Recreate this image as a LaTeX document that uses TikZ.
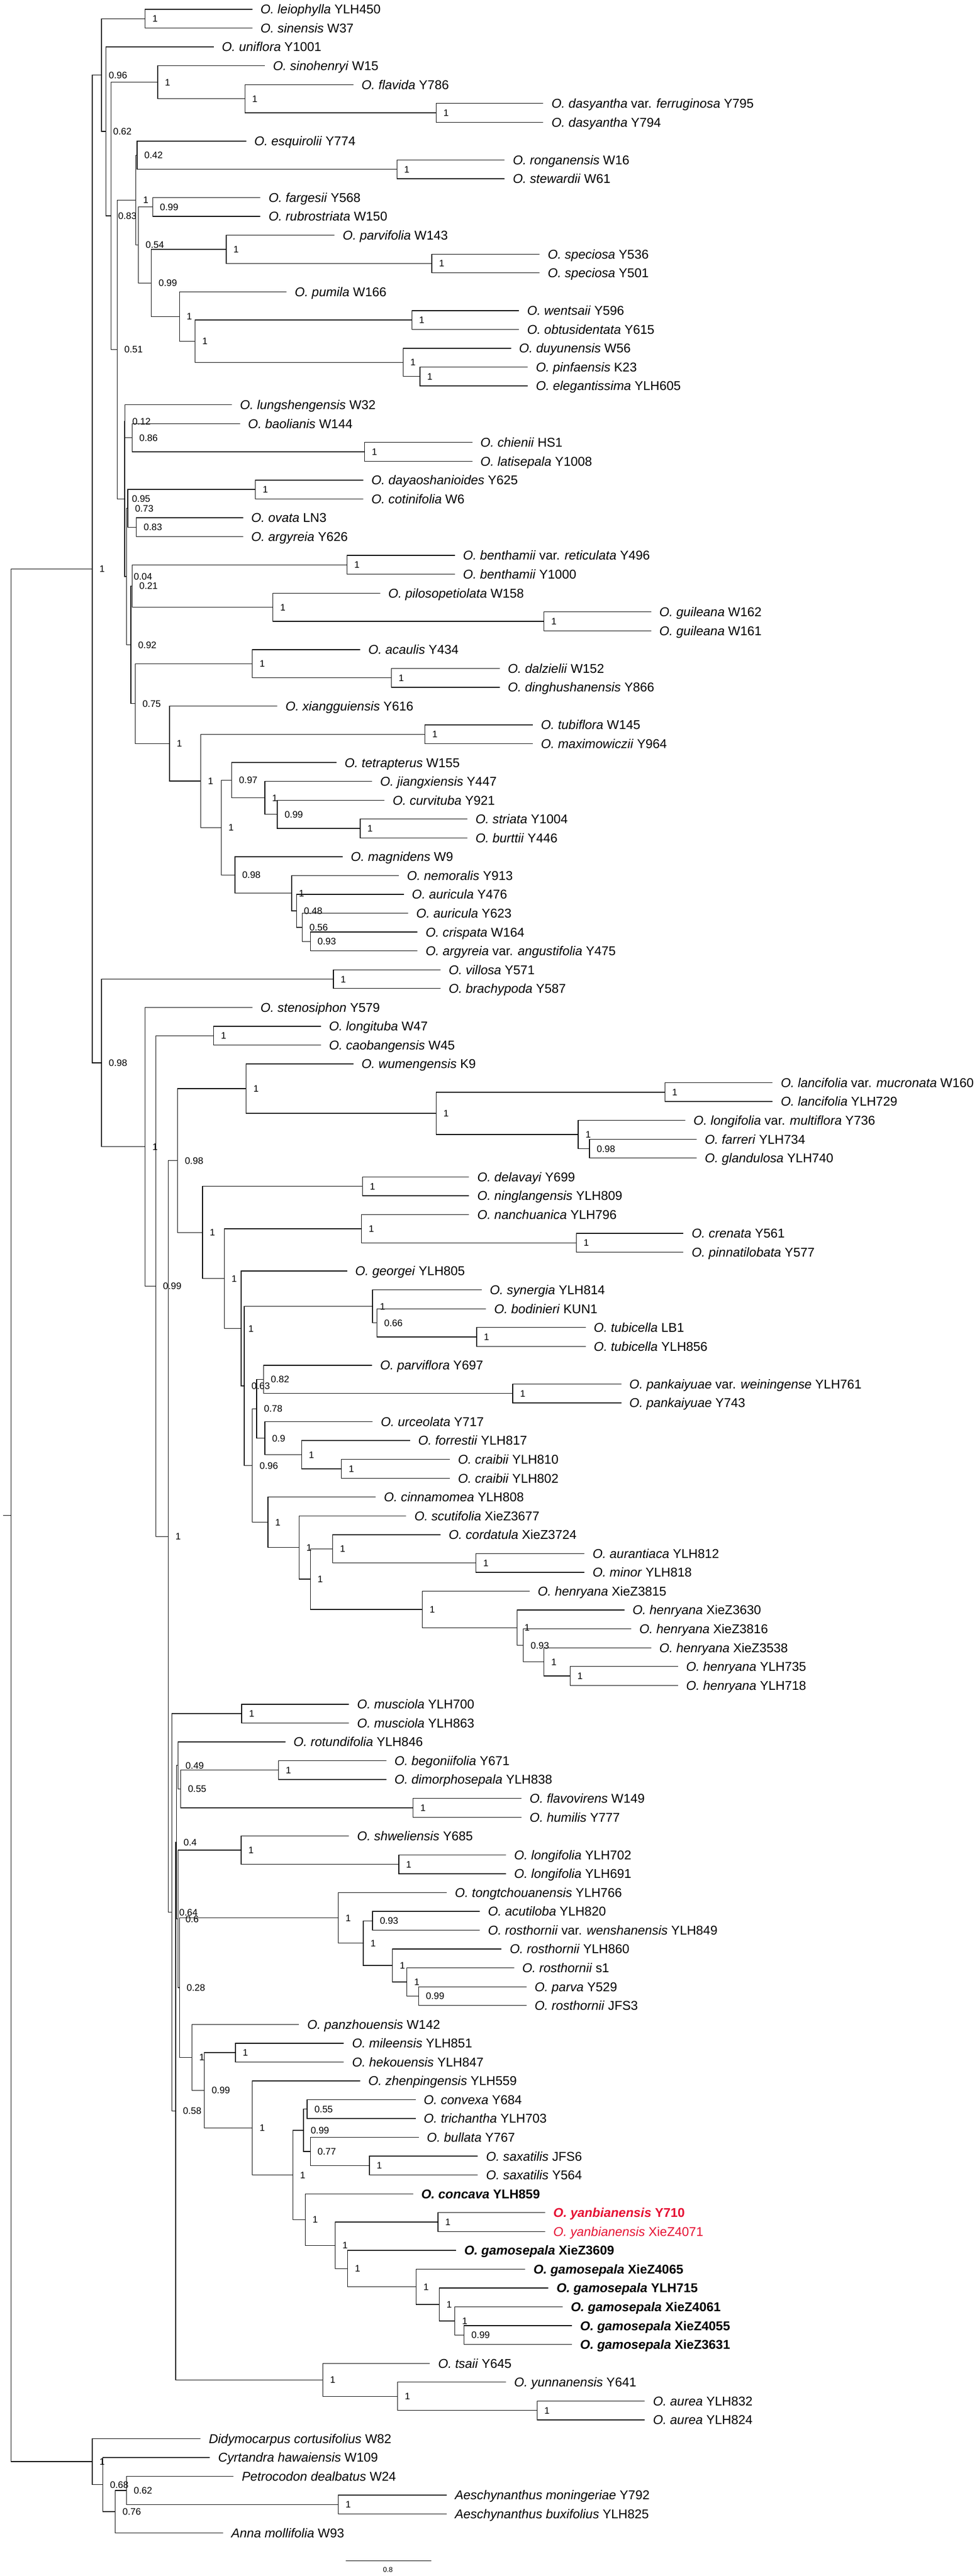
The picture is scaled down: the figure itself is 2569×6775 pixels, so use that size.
\documentclass[tikz,border=0pt]{standalone}
\usepackage{fontspec}
\setmainfont{Liberation Sans}
\definecolor{oyred}{RGB}{230,18,52}
\newcommand\tx[2]{\textit{#1} #2}
\newcommand\tv[3]{\textit{#1} var. \textit{#2} #3}
\newcommand\leaf[3]{%
  \pgfmathsetmacro\mytmp{24.4+(#1-1)*49.53}%
  \expandafter\xdef\csname nyt#1\endcsname{\mytmp}%
  \coordinate (t#1) at (#2,\mytmp);
  \node[leaflab] (L#1) at (t#1) {#3};}
\newcommand\setnode[5]{%
  \pgfmathsetmacro\mytmp{(\csname ny#3\endcsname+\csname ny#4\endcsname)/2}%
  \expandafter\xdef\csname ny#1\endcsname{\mytmp}%
  \coordinate (#1) at (#2,\mytmp);
  \draw[br] (#1) |- (#3);
  \draw[br] (#1) |- (#4);
  \node[sup] (s#1) at (#1) {#5};}
\tikzset{
  br/.style={line width=0.45pt, black},
  leaflab/.style={anchor=west, inner sep=0pt, xshift=5.2pt, font=\fontsize{8.4}{10}\selectfont, text height=6pt, text depth=0pt},
  sup/.style={anchor=west, inner sep=0pt, xshift=4.6pt, font=\fontsize{6.2}{7}\selectfont, text height=4.4pt, text depth=0pt},
  sclab/.style={inner sep=0pt, font=\fontsize{4.6}{5}\selectfont}
}
\begin{document}
\begin{tikzpicture}[x=0.25pt,y=-0.25pt]
\useasboundingbox (0,0) rectangle (2569,6775);
% leaves
\leaf{1}{663.6}{\tx{O. leiophylla}{YLH450}}
\leaf{2}{663.6}{\tx{O. sinensis}{W37}}
\leaf{3}{562}{\tx{O. uniflora}{Y1001}}
\leaf{4}{696.3}{\tx{O. sinohenryi}{W15}}
\leaf{5}{929}{\tx{O. flavida}{Y786}}
\leaf{6}{1428.7}{\tv{O. dasyantha}{ferruginosa}{Y795}}
\leaf{7}{1428.7}{\tx{O. dasyantha}{Y794}}
\leaf{8}{647.2}{\tx{O. esquirolii}{Y774}}
\leaf{9}{1327}{\tx{O. ronganensis}{W16}}
\leaf{10}{1327}{\tx{O. stewardii}{W61}}
\leaf{11}{684.9}{\tx{O. fargesii}{Y568}}
\leaf{12}{684.9}{\tx{O. rubrostriata}{W150}}
\leaf{13}{879.8}{\tx{O. parvifolia}{W143}}
\leaf{14}{1418.9}{\tx{O. speciosa}{Y536}}
\leaf{15}{1418.9}{\tx{O. speciosa}{Y501}}
\leaf{16}{753.7}{\tx{O. pumila}{W166}}
\leaf{17}{1364.8}{\tx{O. wentsaii}{Y596}}
\leaf{18}{1364.8}{\tx{O. obtusidentata}{Y615}}
\leaf{19}{1343.5}{\tx{O. duyunensis}{W56}}
\leaf{20}{1387.7}{\tx{O. pinfaensis}{K23}}
\leaf{21}{1387.7}{\tx{O. elegantissima}{YLH605}}
\leaf{22}{609.5}{\tx{O. lungshengensis}{W32}}
\leaf{23}{630.8}{\tx{O. baolianis}{W144}}
\leaf{24}{1241.9}{\tx{O. chienii}{HS1}}
\leaf{25}{1241.9}{\tx{O. latisepala}{Y1008}}
\leaf{26}{955.2}{\tx{O. dayaoshanioides}{Y625}}
\leaf{27}{955.2}{\tx{O. cotinifolia}{W6}}
\leaf{28}{639}{\tx{O. ovata}{LN3}}
\leaf{29}{639}{\tx{O. argyreia}{Y626}}
\leaf{30}{1196}{\tv{O. benthamii}{reticulata}{Y496}}
\leaf{31}{1196}{\tx{O. benthamii}{Y1000}}
\leaf{32}{999.4}{\tx{O. pilosopetiolata}{W158}}
\leaf{33}{1712.1}{\tx{O. guileana}{W162}}
\leaf{34}{1712.1}{\tx{O. guileana}{W161}}
\leaf{35}{947}{\tx{O. acaulis}{Y434}}
\leaf{36}{1314}{\tx{O. dalzielii}{W152}}
\leaf{37}{1314}{\tx{O. dinghushanensis}{Y866}}
\leaf{38}{729.1}{\tx{O. xiangguiensis}{Y616}}
\leaf{39}{1400.8}{\tx{O. tubiflora}{W145}}
\leaf{40}{1400.8}{\tx{O. maximowiczii}{Y964}}
\leaf{41}{884.7}{\tx{O. tetrapterus}{W155}}
\leaf{42}{978.1}{\tx{O. jiangxiensis}{Y447}}
\leaf{43}{1010.9}{\tx{O. curvituba}{Y921}}
\leaf{44}{1228.8}{\tx{O. striata}{Y1004}}
\leaf{45}{1228.8}{\tx{O. burttii}{Y446}}
\leaf{46}{901.1}{\tx{O. magnidens}{W9}}
\leaf{47}{1048.6}{\tx{O. nemoralis}{Y913}}
\leaf{48}{1061.7}{\tx{O. auricula}{Y476}}
\leaf{49}{1073.2}{\tx{O. auricula}{Y623}}
\leaf{50}{1097.7}{\tx{O. crispata}{W164}}
\leaf{51}{1097.7}{\tv{O. argyreia}{angustifolia}{Y475}}
\leaf{52}{1158.3}{\tx{O. villosa}{Y571}}
\leaf{53}{1158.3}{\tx{O. brachypoda}{Y587}}
\leaf{54}{663.6}{\tx{O. stenosiphon}{Y579}}
\leaf{55}{843.8}{\tx{O. longituba}{W47}}
\leaf{56}{843.8}{\tx{O. caobangensis}{W45}}
\leaf{57}{929}{\tx{O. wumengensis}{K9}}
\leaf{58}{2031.6}{\tv{O. lancifolia}{mucronata}{W160}}
\leaf{59}{2031.6}{\tx{O. lancifolia}{YLH729}}
\leaf{60}{1802.2}{\tv{O. longifolia}{multiflora}{Y736}}
\leaf{61}{1831.7}{\tx{O. farreri}{YLH734}}
\leaf{62}{1831.7}{\tx{O. glandulosa}{YLH740}}
\leaf{63}{1233.7}{\tx{O. delavayi}{Y699}}
\leaf{64}{1233.7}{\tx{O. ninglangensis}{YLH809}}
\leaf{65}{1233.7}{\tx{O. nanchuanica}{YLH796}}
\leaf{66}{1797.3}{\tx{O. crenata}{Y561}}
\leaf{67}{1797.3}{\tx{O. pinnatilobata}{Y577}}
\leaf{68}{912.6}{\tx{O. georgei}{YLH805}}
\leaf{69}{1266.5}{\tx{O. synergia}{YLH814}}
\leaf{70}{1278}{\tx{O. bodinieri}{KUN1}}
\leaf{71}{1540}{\tx{O. tubicella}{LB1}}
\leaf{72}{1540}{\tx{O. tubicella}{YLH856}}
\leaf{73}{978.1}{\tx{O. parviflora}{Y697}}
\leaf{74}{1633.5}{\tv{O. pankaiyuae}{weiningense}{YLH761}}
\leaf{75}{1633.5}{\tx{O. pankaiyuae}{Y743}}
\leaf{76}{979.8}{\tx{O. urceolata}{Y717}}
\leaf{77}{1078}{\tx{O. forrestii}{YLH817}}
\leaf{78}{1182.9}{\tx{O. craibii}{YLH810}}
\leaf{79}{1182.9}{\tx{O. craibii}{YLH802}}
\leaf{80}{988}{\tx{O. cinnamomea}{YLH808}}
\leaf{81}{1068.2}{\tx{O. scutifolia}{XieZ3677}}
\leaf{82}{1158.3}{\tx{O. cordatula}{XieZ3724}}
\leaf{83}{1536.8}{\tx{O. aurantiaca}{YLH812}}
\leaf{84}{1536.8}{\tx{O. minor}{YLH818}}
\leaf{85}{1392.6}{\tx{O. henryana}{XieZ3815}}
\leaf{86}{1641.7}{\tx{O. henryana}{XieZ3630}}
\leaf{87}{1659.7}{\tx{O. henryana}{XieZ3816}}
\leaf{88}{1712.1}{\tx{O. henryana}{XieZ3538}}
\leaf{89}{1782.6}{\tx{O. henryana}{YLH735}}
\leaf{90}{1782.6}{\tx{O. henryana}{YLH718}}
\leaf{91}{917.5}{\tx{O. musciola}{YLH700}}
\leaf{92}{917.5}{\tx{O. musciola}{YLH863}}
\leaf{93}{750.4}{\tx{O. rotundifolia}{YLH846}}
\leaf{94}{1015.8}{\tx{O. begoniifolia}{Y671}}
\leaf{95}{1015.8}{\tx{O. dimorphosepala}{YLH838}}
\leaf{96}{1371.3}{\tx{O. flavovirens}{W149}}
\leaf{97}{1371.3}{\tx{O. humilis}{Y777}}
\leaf{98}{917.5}{\tx{O. shweliensis}{Y685}}
\leaf{99}{1330.4}{\tx{O. longifolia}{YLH702}}
\leaf{100}{1330.4}{\tx{O. longifolia}{YLH691}}
\leaf{101}{1174.7}{\tx{O. tongtchouanensis}{YLH766}}
\leaf{102}{1261.6}{\tx{O. acutiloba}{YLH820}}
\leaf{103}{1261.6}{\tv{O. rosthornii}{wenshanensis}{YLH849}}
\leaf{104}{1318.9}{\tx{O. rosthornii}{YLH860}}
\leaf{105}{1351.7}{\tx{O. rosthornii}{s1}}
\leaf{106}{1384.4}{\tx{O. parva}{Y529}}
\leaf{107}{1384.4}{\tx{O. rosthornii}{JFS3}}
\leaf{108}{786.4}{\tx{O. panzhouensis}{W142}}
\leaf{109}{904.4}{\tx{O. mileensis}{YLH851}}
\leaf{110}{904.4}{\tx{O. hekouensis}{YLH847}}
\leaf{111}{947}{\tx{O. zhenpingensis}{YLH559}}
\leaf{112}{1092.8}{\tx{O. convexa}{Y684}}
\leaf{113}{1092.8}{\tx{O. trichantha}{YLH703}}
\leaf{114}{1101}{\tx{O. bullata}{Y767}}
\leaf{115}{1256.7}{\tx{O. saxatilis}{JFS6}}
\leaf{116}{1256.7}{\tx{O. saxatilis}{Y564}}
\leaf{117}{1086.3}{\bfseries\tx{O. concava}{YLH859}}
\leaf{118}{1433.6}{\color{oyred}\bfseries\tx{O. yanbianensis}{Y710}}
\leaf{119}{1433.6}{\color{oyred}\tx{O. yanbianensis}{XieZ4071}}
\leaf{120}{1199.3}{\bfseries\tx{O. gamosepala}{XieZ3609}}
\leaf{121}{1381.2}{\bfseries\tx{O. gamosepala}{XieZ4065}}
\leaf{122}{1441.8}{\bfseries\tx{O. gamosepala}{YLH715}}
\leaf{123}{1479.5}{\bfseries\tx{O. gamosepala}{XieZ4061}}
\leaf{124}{1504.1}{\bfseries\tx{O. gamosepala}{XieZ4055}}
\leaf{125}{1504.1}{\bfseries\tx{O. gamosepala}{XieZ3631}}
\leaf{126}{1130.5}{\tx{O. tsaii}{Y645}}
\leaf{127}{1330.4}{\tx{O. yunnanensis}{Y641}}
\leaf{128}{1695.7}{\tx{O. aurea}{YLH832}}
\leaf{129}{1695.7}{\tx{O. aurea}{YLH824}}
\leaf{130}{527.6}{\tx{Didymocarpus cortusifolius}{W82}}
\leaf{131}{552.1}{\tx{Cyrtandra hawaiensis}{W109}}
\leaf{132}{614.4}{\tx{Petrocodon dealbatus}{W24}}
\leaf{133}{1174.7}{\tx{Aeschynanthus moningeriae}{Y792}}
\leaf{134}{1174.7}{\tx{Aeschynanthus buxifolius}{YLH825}}
\leaf{135}{586.5}{\tx{Anna mollifolia}{W93}}
% upper clade
\setnode{LS}{381.7}{t1}{t2}{1}
\setnode{S3}{1146.9}{t6}{t7}{1}
\setnode{S2}{643.9}{t5}{S3}{1}
\setnode{S1}{414.5}{t4}{S2}{1}
\setnode{R}{1043.7}{t9}{t10}{1}
\setnode{N042}{360.4}{t8}{R}{0.42}
\setnode{FR}{401.4}{t11}{t12}{0.99}
\setnode{SP}{1135.4}{t14}{t15}{1}
\setnode{P1}{594.7}{t13}{SP}{1}
\setnode{WO}{1083}{t17}{t18}{1}
\setnode{PE}{1104.3}{t20}{t21}{1}
\setnode{DPE}{1060}{t19}{PE}{1}
\setnode{W1}{512.8}{WO}{DPE}{1}
\setnode{PU}{471.9}{t16}{W1}{1}
\setnode{N099b}{398.1}{P1}{PU}{0.99}
\setnode{N054}{363.7}{FR}{N099b}{0.54}
\setnode{N1a}{357.2}{N042}{N054}{1}
\setnode{CL}{958.5}{t24}{t25}{1}
\setnode{N086}{347.3}{t23}{CL}{0.86}
\setnode{N012}{328.7}{t22}{N086}{0.12}
\setnode{DC}{671.7}{t26}{t27}{1}
\setnode{OA}{358.8}{t28}{t29}{0.83}
\setnode{N073}{335.9}{DC}{OA}{0.73}
\setnode{B}{912.6}{t30}{t31}{1}
\setnode{GG}{1430.3}{t33}{t34}{1}
\setnode{PG}{717.6}{t32}{GG}{1}
\setnode{N021}{347.3}{B}{PG}{0.21}
\setnode{DD}{1028.9}{t36}{t37}{1}
\setnode{AD}{663.6}{t35}{DD}{1}
\setnode{TM}{1117.4}{t39}{t40}{1}
\setnode{SB}{947}{t44}{t45}{1}
\setnode{N099c}{729.1}{t43}{SB}{0.99}
\setnode{J}{696.3}{t42}{N099c}{1}
\setnode{N097}{609.5}{t41}{J}{0.97}
\setnode{N093}{816}{t50}{t51}{0.93}
\setnode{N056}{794.6}{t49}{N093}{0.56}
\setnode{N048}{780}{t48}{N056}{0.48}
\setnode{NA}{766.8}{t47}{N048}{1}
\setnode{N098b}{617.7}{t46}{NA}{0.98}
\setnode{X3}{581.6}{N097}{N098b}{1}
\setnode{X2}{527.6}{TM}{X3}{1}
\setnode{X1}{445.6}{t38}{X2}{1}
\setnode{N075}{355.5}{AD}{X1}{0.75}
\setnode{N092}{344}{N021}{N075}{0.92}
\setnode{N004}{332.6}{N073}{N092}{0.04}
\setnode{N095}{327.7}{N012}{N004}{0.95}
\setnode{N051}{308}{N1a}{N095}{0.51}
\setnode{N083}{291.6}{S1}{N051}{0.83}
\setnode{N062}{278.5}{t3}{N083}{0.62}
\setnode{N096}{267}{LS}{N062}{0.96}
% lower clade
\setnode{VB}{876.5}{t52}{t53}{1}
\setnode{LC}{562}{t55}{t56}{1}
\setnode{LL}{1748.2}{t58}{t59}{1}
\setnode{FG}{1550}{t61}{t62}{0.98}
\setnode{LFG}{1520.4}{t60}{FG}{1}
\setnode{WL2}{1146.9}{LL}{LFG}{1}
\setnode{WL}{647.2}{t57}{WL2}{1}
\setnode{DN}{953.5}{t63}{t64}{1}
\setnode{CP}{1515.5}{t66}{t67}{1}
\setnode{NC}{950.3}{t65}{CP}{1}
\setnode{TT}{1253.4}{t71}{t72}{1}
\setnode{N066}{991.2}{t70}{TT}{0.66}
\setnode{SBT}{979.8}{t69}{N066}{1}
\setnode{PK}{1348.4}{t74}{t75}{1}
\setnode{N082}{693}{t73}{PK}{0.82}
\setnode{CR}{897.8}{t78}{t79}{1}
\setnode{FC}{793}{t77}{CR}{1}
\setnode{N09}{696.3}{t76}{FC}{0.9}
\setnode{N078}{675}{N082}{N09}{0.78}
\setnode{AM}{1251.7}{t83}{t84}{1}
\setnode{CAM}{874.9}{t82}{AM}{1}
\setnode{HY}{1499.1}{t89}{t90}{1}
\setnode{HX}{1430.3}{t88}{HY}{1}
\setnode{N093b}{1376.3}{t87}{HX}{0.93}
\setnode{N1g}{1359.9}{t86}{N093b}{1}
\setnode{H1}{1110.8}{t85}{N1g}{1}
\setnode{N1h}{816}{CAM}{H1}{1}
\setnode{SC}{786.4}{t81}{N1h}{1}
\setnode{CC}{704.5}{t80}{SC}{1}
\setnode{N096c}{663.6}{N078}{CC}{0.96}
\setnode{N063}{642.3}{SBT}{N096c}{0.63}
\setnode{N1f}{634}{t68}{N063}{1}
\setnode{N1e}{589.8}{NC}{N1f}{1}
\setnode{N1d}{532.5}{DN}{N1e}{1}
\setnode{N098c}{467}{WL}{N1d}{0.98}
\setnode{MU}{635.7}{t91}{t92}{1}
\setnode{BD}{732.4}{t94}{t95}{1}
\setnode{FH}{1086.3}{t96}{t97}{1}
\setnode{N055}{475.1}{BD}{FH}{0.55}
\setnode{N049}{468.6}{t93}{N055}{0.49}
\setnode{LL2}{1048.6}{t99}{t100}{1}
\setnode{SL}{634}{t98}{LL2}{1}
\setnode{N093c}{979.8}{t102}{t103}{0.93}
\setnode{N099e}{1101}{t106}{t107}{0.99}
\setnode{N1l}{1069.9}{t105}{N099e}{1}
\setnode{N1k}{1032.2}{t104}{N1l}{1}
\setnode{N1j}{955.2}{N093c}{N1k}{1}
\setnode{TR}{889.6}{t101}{N1j}{1}
\setnode{MH}{619.3}{t109}{t110}{1}
\setnode{CT}{807.7}{t112}{t113}{0.55}
\setnode{SX}{971.6}{t115}{t116}{1}
\setnode{N077}{816}{t114}{SX}{0.77}
\setnode{N099g}{797.9}{CT}{N077}{0.99}
\setnode{YB}{1151.8}{t118}{t119}{1}
\setnode{G5}{1220.6}{t124}{t125}{0.99}
\setnode{G4}{1196}{t123}{G5}{1}
\setnode{G3}{1155}{t122}{G4}{1}
\setnode{G2}{1094.5}{t121}{G3}{1}
\setnode{G1}{914.2}{t120}{G2}{1}
\setnode{YG}{881.5}{YB}{G1}{1}
\setnode{CYG}{802.8}{t117}{YG}{1}
\setnode{N1n}{770}{N099g}{CYG}{1}
\setnode{N1m}{663.6}{t111}{N1n}{1}
\setnode{N099f}{537.4}{MH}{N1m}{0.99}
\setnode{N1i}{504.6}{t108}{N099f}{1}
\setnode{N028}{471.9}{TR}{N1i}{0.28}
\setnode{N06}{468.6}{SL}{N028}{0.6}
\setnode{N04}{463.7}{N049}{N06}{0.4}
\setnode{AA}{1412.3}{t128}{t129}{1}
\setnode{YA}{1045.3}{t127}{AA}{1}
\setnode{TY}{848.7}{t126}{YA}{1}
\setnode{N058}{462}{N04}{TY}{0.58}
\setnode{N064}{452.2}{MU}{N058}{0.64}
\setnode{N1c}{442.4}{N098c}{N064}{1}
\setnode{N099d}{409.6}{LC}{N1c}{0.99}
\setnode{N1b}{381.7}{t54}{N099d}{1}
\setnode{N098}{267}{VB}{N1b}{0.98}
\setnode{A}{242.5}{N096}{N098}{1}
% outgroups
\setnode{AE}{889.6}{t133}{t134}{1}
\setnode{N062b}{332.6}{t132}{AE}{0.62}
\setnode{N076}{303.1}{N062b}{t135}{0.76}
\setnode{ON2}{270.3}{t131}{N076}{0.68}
\setnode{OG}{242.5}{t130}{ON2}{1}
% root
\pgfmathsetmacro\ry{(\nyA+\nyOG)/2}
\coordinate (ROOT) at (29.5,\ry);
\coordinate (rootstem) at (8,\ry);
\draw[br] (ROOT) |- (A);
\draw[br] (ROOT) |- (OG);
\draw[br] (rootstem) -- (ROOT);
% scale bar
\coordinate (sb1) at (909,6735);
\coordinate (sb2) at (1134,6735);
\draw[br] (sb1) -- (sb2);
\node[sclab] (sbl) at (1020,6758) {0.8};
\end{tikzpicture}
\end{document}
